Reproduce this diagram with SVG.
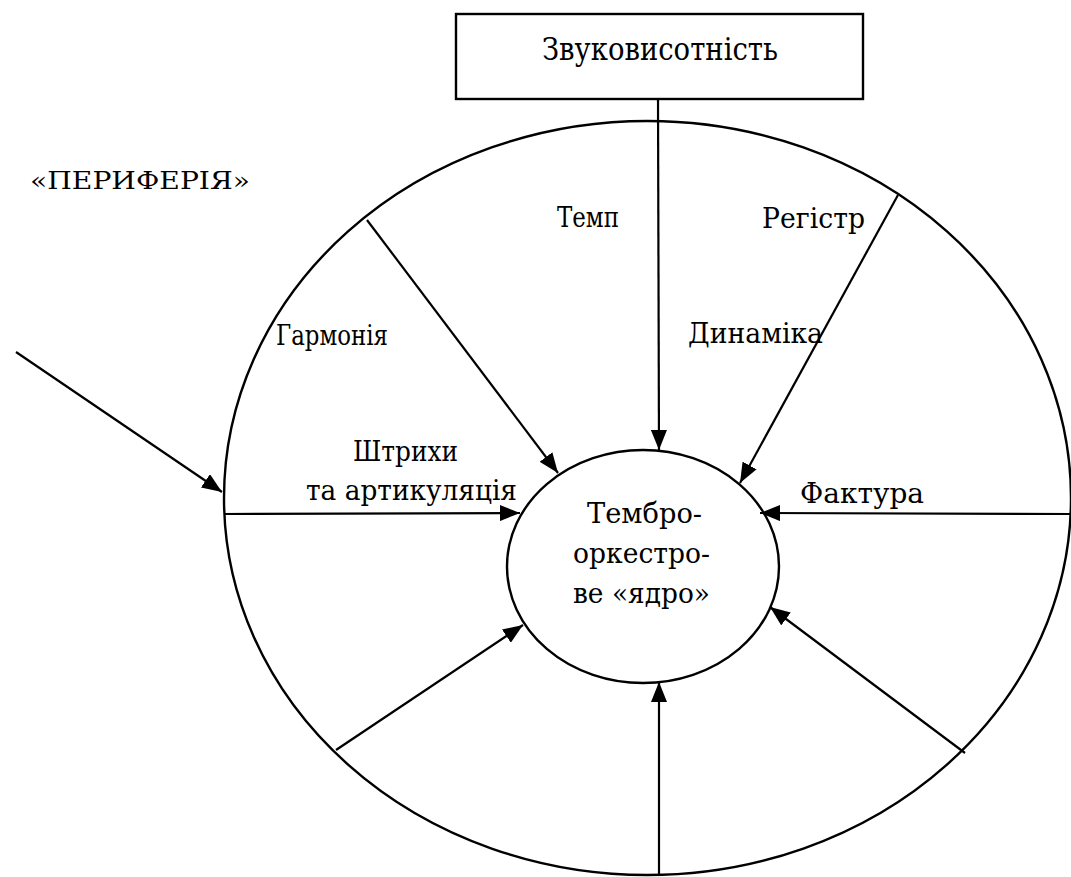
<svg xmlns="http://www.w3.org/2000/svg" width="1071" height="877" viewBox="0 0 1071 877">
<style>
.t{font-family:"DejaVu Serif",serif;font-size:27px;fill:#000}
.big{font-size:31px}
.per{font-size:25px}
.sh{fill:none;stroke:#000;stroke-width:2.4}
.c{stroke:#000;stroke-width:2.2;fill:none;marker-end:url(#ah)}
</style>
<defs>
<marker id="ah" viewBox="0 0 20 16" refX="20" refY="8" markerWidth="20" markerHeight="16" markerUnits="userSpaceOnUse" orient="auto">
<path d="M0,0 L20,8 L0,16 Z" fill="#000"/>
</marker>
</defs>
<rect width="1071" height="877" fill="#fff"/>
<g id="periphery">
<ellipse class="sh" cx="647.5" cy="498" rx="423.5" ry="377"/>
<text class="t per" x="30" y="189" textLength="220" lengthAdjust="spacingAndGlyphs">«ПЕРИФЕРІЯ»</text>
</g>
<g id="pitch">
<rect class="sh" x="456" y="14" width="407" height="85" stroke-width="2.6"/>
<text class="t big" x="542" y="60" textLength="236" lengthAdjust="spacingAndGlyphs">Звуковисотність</text>
</g>
<g id="core">
<ellipse class="sh" cx="643" cy="566.5" rx="136" ry="116.5"/>
<text class="t" x="587" y="523" textLength="115" lengthAdjust="spacingAndGlyphs">Тембро-</text>
<text class="t" x="573" y="563" textLength="137" lengthAdjust="spacingAndGlyphs">оркестро-</text>
<text class="t" x="573" y="603" textLength="137" lengthAdjust="spacingAndGlyphs">ве «ядро»</text>
</g>
<g id="labels">
<text class="t" x="557" y="227" textLength="62" lengthAdjust="spacingAndGlyphs">Темп</text>
<text class="t" x="762" y="228" textLength="103" lengthAdjust="spacingAndGlyphs">Регістр</text>
<text class="t" x="276" y="345" textLength="112" lengthAdjust="spacingAndGlyphs">Гармонія</text>
<text class="t" x="688" y="343" textLength="135" lengthAdjust="spacingAndGlyphs">Динаміка</text>
<text class="t" x="353" y="461" textLength="105" lengthAdjust="spacingAndGlyphs">Штрихи</text>
<text class="t" x="306" y="500" textLength="211" lengthAdjust="spacingAndGlyphs">та артикуляція</text>
<text class="t" x="800" y="503" textLength="124" lengthAdjust="spacingAndGlyphs">Фактура</text>
</g>
<g id="connectors">
<line class="c" x1="658" y1="99" x2="659" y2="450"/>
<line class="c" x1="367" y1="220" x2="558" y2="473"/>
<line class="c" x1="898" y1="195" x2="740" y2="483"/>
<line class="c" x1="224" y1="514" x2="520" y2="513"/>
<line class="c" x1="1071" y1="514" x2="760" y2="513"/>
<line class="c" x1="336" y1="750" x2="523" y2="625"/>
<line class="c" x1="965" y1="753" x2="770" y2="607"/>
<line class="c" x1="659" y1="875" x2="659" y2="682"/>
<line class="c" x1="16" y1="352" x2="222" y2="492"/>
</g>
</svg>
